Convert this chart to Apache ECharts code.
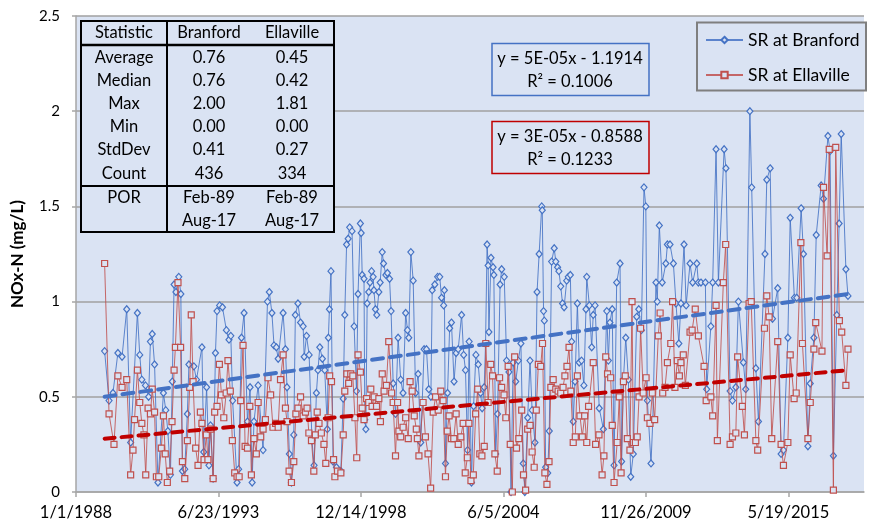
<!DOCTYPE html>
<html>
<head>
<meta charset="utf-8">
<script src="https://cdn.jsdelivr.net/npm/echarts@6/dist/echarts.min.js"></script>
<style>html,body{margin:0;padding:0;background:#fff}#c{width:875px;height:529px}</style>
</head>
<body>
<div id="c"></div>
<script>
// ---- Data (dates as decimal years) ----
const brYears = [1989.10,1989.27,1989.42,1989.61,1989.77,1989.95,1990.10,1990.36,1990.45,1990.53,1990.67,1990.79,1990.86,1990.93,1991.02,1991.15,1991.36,1991.45,1991.53,1991.63,1991.70,1991.77,1991.84,1991.95,1992.03,1992.09,1992.18,1992.28,1992.34,1992.53,1992.63,1992.84,1992.91,1993.02,1993.11,1993.17,1993.27,1993.36,1993.42,1993.52,1993.63,1993.78,1993.88,1993.95,1994.02,1994.19,1994.25,1994.36,1994.46,1994.59,1994.69,1994.77,1994.84,1995.00,1995.19,1995.36,1995.43,1995.53,1995.61,1995.70,1995.77,1995.96,1996.05,1996.11,1996.20,1996.28,1996.37,1996.43,1996.53,1996.63,1996.73,1996.77,1996.86,1996.96,1997.07,1997.15,1997.24,1997.30,1997.37,1997.47,1997.56,1997.66,1997.70,1997.74,1997.80,1997.88,1998.01,1998.18,1998.27,1998.33,1998.40,1998.46,1998.52,1998.61,1998.69,1998.78,1998.84,1998.93,1998.96,1999.00,1999.07,1999.10,1999.14,1999.19,1999.25,1999.30,1999.36,1999.42,1999.45,1999.51,1999.56,1999.64,1999.69,1999.77,1999.82,1999.91,1999.97,2000.05,2000.11,2000.19,2000.28,2000.38,2000.48,2000.57,2000.67,2000.74,2000.79,2000.87,2000.96,2001.05,2001.15,2001.25,2001.38,2001.47,2001.56,2001.64,2001.69,2001.79,2001.90,2001.98,2002.05,2002.13,2002.16,2002.20,2002.28,2002.36,2002.43,2002.53,2002.61,2002.69,2002.82,2002.90,2002.97,2003.05,2003.11,2003.20,2003.28,2003.37,2003.46,2003.55,2003.61,2003.69,2003.74,2003.80,2003.84,2003.87,2003.95,2004.03,2004.06,2004.13,2004.20,2004.30,2004.36,2004.46,2004.55,2004.64,2004.72,2004.80,2004.90,2005.00,2005.10,2005.19,2005.25,2005.36,2005.45,2005.53,2005.64,2005.72,2005.80,2005.90,2005.92,2005.97,2006.00,2006.05,2006.13,2006.19,2006.28,2006.38,2006.44,2006.51,2006.56,2006.63,2006.70,2006.76,2006.86,2006.92,2007.00,2007.05,2007.11,2007.18,2007.27,2007.34,2007.43,2007.52,2007.60,2007.63,2007.73,2007.82,2007.88,2007.95,2008.11,2008.27,2008.40,2008.46,2008.52,2008.61,2008.68,2008.78,2008.91,2008.97,2009.04,2009.13,2009.23,2009.32,2009.42,2009.55,2009.63,2009.73,2009.83,2009.90,2009.96,2010.10,2010.17,2010.29,2010.34,2010.42,2010.53,2010.67,2010.73,2010.83,2010.96,2011.06,2011.17,2011.25,2011.37,2011.45,2011.60,2011.70,2011.86,2011.92,2012.02,2012.19,2012.24,2012.40,2012.47,2012.60,2012.69,2012.91,2012.98,2013.14,2013.23,2013.36,2013.46,2013.65,2013.74,2013.90,2013.97,2014.13,2014.23,2014.48,2014.55,2014.68,2014.77,2014.97,2015.10,2015.19,2015.36,2015.45,2015.61,2015.70,2015.87,2015.96,2016.13,2016.22,2016.36,2016.45,2016.64,2016.73,2016.90,2016.98,2017.11,2017.24,2017.33,2017.41,2017.59,2017.67];
const brValues = [0.74,0.48,0.52,0.73,0.71,0.96,0.26,0.94,0.72,0.59,0.56,0.50,0.79,0.83,0.67,0.05,0.52,0.43,0.32,0.09,0.58,1.09,1.05,1.13,1.04,0.11,0.12,0.41,0.67,0.66,0.59,0.76,0.21,0.55,0.14,0.35,0.07,0.73,0.95,0.98,0.97,0.85,0.80,0.82,0.48,0.05,0.12,0.81,0.94,0.37,0.55,0.05,0.37,0.56,0.22,1.00,1.05,0.94,0.77,0.76,0.70,0.94,0.75,0.55,0.20,0.05,0.30,0.93,0.99,0.89,0.87,0.71,0.82,0.72,0.27,0.14,0.52,0.64,0.76,0.70,0.64,0.33,0.81,0.96,1.16,0.16,0.13,0.11,0.49,0.93,1.30,1.33,1.39,1.37,0.87,0.53,1.04,1.41,1.36,1.14,1.12,0.38,0.33,0.99,1.05,1.10,1.16,1.13,1.06,0.96,0.93,1.05,1.10,1.26,1.20,1.14,1.15,1.12,0.95,0.57,0.41,0.81,0.59,0.52,0.94,0.85,0.81,1.26,1.11,0.52,0.62,0.26,0.75,0.75,0.54,0.50,1.06,1.09,1.13,1.13,1.02,0.98,1.06,0.15,0.52,0.86,0.89,0.58,0.73,0.75,0.93,0.72,0.64,0.22,0.79,0.05,0.45,0.72,0.67,0.52,0.44,0.55,0.78,1.30,1.19,0.84,1.23,1.18,1.14,0.20,0.41,1.09,1.17,1.13,0.69,0.63,0.00,0.68,0.58,0.69,0.78,0.15,0.00,0.39,0.69,0.43,0.26,1.05,1.25,1.50,1.48,0.95,0.90,0.13,0.10,0.32,1.21,1.28,1.21,1.18,1.16,1.08,0.99,0.97,1.11,1.13,1.14,0.79,0.37,0.58,0.99,0.68,0.69,0.56,0.96,1.13,0.98,0.76,0.93,0.98,0.44,0.33,0.95,0.69,0.89,0.96,0.14,1.10,1.20,0.16,0.59,0.81,0.59,0.08,0.20,0.92,0.96,0.85,1.60,1.50,0.48,0.15,0.38,1.10,1.00,1.40,1.10,1.20,1.30,1.30,1.20,0.99,0.78,0.99,1.30,0.98,1.20,1.10,1.20,1.10,1.10,1.10,0.54,0.87,1.10,1.80,1.10,1.80,1.70,0.53,0.48,0.55,1.00,0.68,0.54,2.00,1.60,0.65,0.37,1.25,1.64,1.70,0.91,1.07,0.20,0.22,0.81,1.44,1.02,1.02,1.49,1.25,0.24,0.57,0.81,1.35,1.61,1.54,1.87,1.79,0.19,0.93,1.41,1.88,1.17,1.03];

const elYears = [1989.10,1989.27,1989.46,1989.61,1989.77,1989.95,1990.10,1990.19,1990.25,1990.36,1990.45,1990.53,1990.61,1990.68,1990.77,1990.86,1990.93,1991.02,1991.09,1991.18,1991.28,1991.36,1991.43,1991.51,1991.60,1991.69,1991.77,1991.82,1991.92,1992.02,1992.09,1992.18,1992.28,1992.37,1992.43,1992.50,1992.60,1992.69,1992.78,1992.84,1992.92,1993.01,1993.07,1993.18,1993.27,1993.33,1993.42,1993.51,1993.59,1993.68,1993.77,1993.84,1993.93,1994.01,1994.10,1994.19,1994.27,1994.33,1994.42,1994.50,1994.59,1994.68,1994.74,1994.84,1994.93,1995.00,1995.10,1995.19,1995.28,1995.38,1995.48,1995.57,1995.67,1995.77,1995.86,1995.96,1996.05,1996.11,1996.19,1996.28,1996.37,1996.45,1996.53,1996.63,1996.73,1996.82,1996.88,1996.95,1997.05,1997.14,1997.20,1997.27,1997.34,1997.43,1997.53,1997.60,1997.69,1997.75,1997.82,1997.90,1997.95,1998.05,1998.18,1998.27,1998.33,1998.41,1998.48,1998.56,1998.64,1998.72,1998.79,1998.84,1998.93,1999.00,1999.07,1999.17,1999.25,1999.33,1999.38,1999.46,1999.55,1999.64,1999.70,1999.77,1999.84,1999.93,2000.02,2000.13,2000.19,2000.28,2000.36,2000.41,2000.48,2000.57,2000.67,2000.77,2000.84,2000.92,2001.00,2001.08,2001.12,2001.18,2001.34,2001.43,2001.53,2001.63,2001.73,2001.82,2001.92,2002.02,2002.11,2002.20,2002.27,2002.34,2002.43,2002.52,2002.61,2002.69,2002.79,2002.88,2002.96,2003.04,2003.10,2003.18,2003.27,2003.36,2003.44,2003.52,2003.60,2003.69,2003.75,2003.84,2003.94,2004.01,2004.10,2004.19,2004.28,2004.36,2004.45,2004.52,2004.61,2004.69,2004.77,2004.86,2004.93,2005.02,2005.13,2005.20,2005.28,2005.36,2005.45,2005.53,2005.61,2005.69,2005.77,2005.86,2005.93,2006.02,2006.10,2006.18,2006.25,2006.34,2006.44,2006.53,2006.63,2006.72,2006.79,2006.87,2006.95,2007.02,2007.11,2007.19,2007.27,2007.37,2007.46,2007.55,2007.63,2007.70,2007.88,2007.97,2008.10,2008.22,2008.29,2008.36,2008.43,2008.55,2008.61,2008.68,2008.80,2008.88,2008.95,2009.04,2009.11,2009.19,2009.29,2009.37,2009.42,2009.50,2009.57,2009.64,2009.70,2009.80,2009.91,2009.96,2010.06,2010.15,2010.24,2010.38,2010.45,2010.55,2010.64,2010.73,2010.86,2010.93,2011.02,2011.11,2011.19,2011.25,2011.34,2011.42,2011.60,2011.68,2011.80,2011.92,2012.14,2012.22,2012.40,2012.47,2012.60,2012.65,2012.88,2012.97,2013.14,2013.23,2013.36,2013.43,2013.61,2013.69,2013.87,2013.95,2014.13,2014.20,2014.46,2014.55,2014.64,2014.74,2014.97,2015.10,2015.19,2015.36,2015.45,2015.60,2015.68,2015.86,2015.92,2016.13,2016.22,2016.36,2016.43,2016.67,2016.73,2016.87,2016.95,2017.11,2017.20,2017.34,2017.43,2017.59,2017.67];
const elValues = [1.20,0.41,0.25,0.61,0.55,0.59,0.09,0.22,0.38,0.64,0.47,0.36,0.30,0.09,0.44,0.41,0.54,0.42,0.08,0.08,0.23,0.40,0.20,0.05,0.11,0.37,0.64,0.76,1.10,0.76,0.16,0.07,0.27,0.55,0.93,0.58,0.23,0.14,0.42,0.36,0.17,0.30,0.17,0.33,0.07,0.42,0.45,0.67,0.51,0.39,0.52,0.69,0.53,0.27,0.10,0.08,0.08,0.48,0.77,0.24,0.23,0.45,0.09,0.28,0.20,0.47,0.29,0.33,0.38,0.60,0.51,0.34,0.36,0.34,0.59,0.72,0.44,0.37,0.11,0.05,0.16,0.41,0.44,0.50,0.40,0.42,0.44,0.31,0.27,0.11,0.30,0.42,0.36,0.31,0.25,0.15,0.39,0.61,0.58,0.17,0.08,0.11,0.10,0.30,0.53,0.62,0.57,0.62,0.61,0.39,0.18,0.72,0.63,0.44,0.38,0.49,0.47,0.54,0.45,0.50,0.45,0.49,0.37,0.62,0.53,0.56,0.79,0.52,0.47,0.19,0.47,0.32,0.29,0.34,0.39,0.28,0.58,0.53,0.40,0.33,0.28,0.19,0.47,0.29,0.20,0.02,0.42,0.50,0.43,0.53,0.48,0.08,0.32,0.40,0.28,0.28,0.41,0.25,0.29,0.36,0.10,0.18,0.36,0.06,0.09,0.41,0.54,0.20,0.19,0.24,0.78,0.47,0.67,0.61,0.20,0.11,0.60,0.55,0.51,0.39,0.66,0.25,0.00,0.71,0.23,0.28,0.43,0.09,0.01,0.33,0.35,0.21,0.13,0.43,0.67,0.66,0.78,0.10,0.04,0.16,0.55,0.59,0.54,0.53,0.52,0.55,0.61,0.66,0.76,0.53,0.26,0.29,0.61,0.40,0.29,0.40,0.26,0.45,0.68,0.25,0.30,0.09,0.19,0.71,0.62,0.60,0.35,0.05,0.26,0.50,0.10,0.58,0.61,0.28,0.22,1.00,0.26,0.26,0.29,0.50,0.86,0.52,0.60,0.39,0.36,0.52,0.38,0.82,0.94,0.52,0.55,0.68,0.78,1.00,0.55,0.69,0.61,0.68,0.72,0.56,0.84,0.85,0.96,0.82,0.66,0.48,0.50,0.40,0.98,0.27,1.10,1.30,0.25,0.29,0.31,0.71,0.45,0.30,0.99,1.00,0.27,0.22,0.86,1.03,0.92,0.28,0.79,0.25,0.14,0.26,0.72,0.49,0.52,1.31,0.78,0.28,0.47,0.75,0.89,0.74,1.60,1.24,1.80,0.01,1.81,0.90,0.84,0.56,0.75];

// linear trendline end points
const trendYears = [1989.10, 2017.67];
const brTrend = [0.50, 1.04];
const elTrend = [0.28, 0.64];

const seriesNames = ['SR at Branford', 'SR at Ellaville'];
const xTickDays = [0, 2000, 4000, 6000, 8000, 10000];

const tableHeader = ['Statistic', 'Branford', 'Ellaville'];
const statNames = ['Average', 'Median', 'Max', 'Min', 'StdDev', 'Count'];
const branfordStats = ['0.76', '0.76', '2.00', '0.00', '0.41', '436'];
const ellavilleStats = ['0.45', '0.42', '1.81', '0.00', '0.27', '334'];
const porLabel = 'POR';
const branfordPor = ['Feb-89', 'Aug-17'];
const ellavillePor = ['Feb-89', 'Aug-17'];

const eqBranford = ['y = 5E-05x - 1.1914', 'R² = 0.1006'];
const eqEllaville = ['y = 3E-05x - 0.8588', 'R² = 0.1233'];

// ---- helpers ----
const DAY0 = Date.UTC(1988, 0, 1);
const toDays = y => (y - 1988) * 365.25;
const pairs = (xs, ys) => xs.map((x, i) => [toDays(x), ys[i]]);
const fmtDate = v => {
  const d = new Date(DAY0 + Math.round(v) * 86400000);
  return (d.getUTCMonth() + 1) + '/' + d.getUTCDate() + '/' + d.getUTCFullYear();
};

const FONT = 'Lato, "Open Sans", sans-serif';
const BG = '#DAE3F3';
const BLUE = '#4472C4';
const RED = '#C0504D';

// ---- table graphic ----
const T = {x: 81, y: 21, w: 253, h: 211, c1: 167, hLine: 45, pLine: 186};
const rowY = [58, 81, 104, 127, 150, 174];
const colX = [124, 209, 292];
const g = [];
g.push({type: 'rect', z: 50, shape: {x: T.x, y: T.y, width: T.w, height: T.h}, style: {fill: BG, stroke: '#000', lineWidth: 2}});
g.push({type: 'line', z: 51, shape: {x1: T.c1, y1: T.y, x2: T.c1, y2: T.y + T.h}, style: {stroke: '#000', lineWidth: 2}});
g.push({type: 'line', z: 51, shape: {x1: T.x, y1: T.hLine, x2: T.x + T.w, y2: T.hLine}, style: {stroke: '#000', lineWidth: 2.5}});
g.push({type: 'line', z: 51, shape: {x1: T.x, y1: T.pLine, x2: T.x + T.w, y2: T.pLine}, style: {stroke: '#000', lineWidth: 2}});
const txt = (s, x, y) => ({type: 'text', z: 52, x: x, y: y,
  style: {text: s, font: '16.5px ' + FONT, fill: '#000', align: 'center', verticalAlign: 'middle'}});
tableHeader.forEach((h, i) => g.push(txt(h, colX[i], 33)));
statNames.forEach((s, i) => {
  g.push(txt(s, colX[0], rowY[i]));
  g.push(txt(branfordStats[i], colX[1], rowY[i]));
  g.push(txt(ellavilleStats[i], colX[2], rowY[i]));
});
g.push(txt(porLabel, colX[0], 198));
branfordPor.forEach((s, i) => g.push(txt(s, colX[1], 198 + i * 23)));
ellavillePor.forEach((s, i) => g.push(txt(s, colX[2], 198 + i * 23)));

// equation boxes
const eqBox = (lines, y, color) => {
  g.push({type: 'rect', z: 50, shape: {x: 492, y: y, width: 157, height: 52}, style: {fill: BG, stroke: color, lineWidth: 1.5}});
  lines.forEach((s, i) => g.push(txt(s, 570, y + 15 + i * 23)));
};
eqBox(eqBranford, 43.5, BLUE);
eqBox(eqEllaville, 121.5, '#C00000');

// legend box
g.push({type: 'rect', z: 50, shape: {x: 697, y: 22.5, width: 169, height: 68}, style: {fill: BG, stroke: '#7F7F7F', lineWidth: 2}});

const chart = echarts.init(document.getElementById('c'), null, {renderer: 'canvas'});
chart.setOption({
  animation: false,
  backgroundColor: '#fff',
  grid: {left: 76, right: 11, top: 16, bottom: 37, show: true, backgroundColor: BG, borderWidth: 0},
  legend: {
    data: seriesNames, orient: 'vertical', left: 700, top: 25, itemWidth: 37, itemHeight: 8, itemGap: 15,
    z: 60, textStyle: {fontFamily: FONT, fontSize: 17.5, color: '#000', lineHeight: 20}
  },
  xAxis: {
    type: 'value', min: 0, max: 11062, interval: 2000,
    axisLine: {lineStyle: {color: '#A6A6A6', width: 1.5}},
    axisTick: {show: true, length: 5, lineStyle: {color: '#A6A6A6', width: 1.5}, customValues: xTickDays},
    axisLabel: {customValues: xTickDays, formatter: fmtDate, fontFamily: FONT, fontSize: 16.5, color: '#000', margin: 12},
    splitLine: {show: false}
  },
  yAxis: {
    type: 'value', min: 0, max: 2.5, interval: 0.5,
    name: 'NOx-N (mg/L)', nameLocation: 'middle', nameGap: 50,
    nameTextStyle: {fontFamily: FONT, fontSize: 17, fontWeight: 'bold', color: '#000'},
    axisLine: {show: true, lineStyle: {color: '#A6A6A6', width: 1.5}},
    axisTick: {show: true, length: 4, lineStyle: {color: '#A6A6A6', width: 1.5}},
    axisLabel: {fontFamily: FONT, fontSize: 15, color: '#000', margin: 16},
    splitLine: {show: true, lineStyle: {color: '#A0A0A0', width: 1.5}}
  },
  graphic: g,
  series: [
    {name: seriesNames[0], type: 'line', z: 2, data: pairs(brYears, brValues),
     symbol: 'diamond', symbolSize: [6, 7], showAllSymbol: true,
     lineStyle: {color: BLUE, width: 1, opacity: 0.85},
     itemStyle: {color: BG, borderColor: BLUE, borderWidth: 1.2}},
    {name: seriesNames[1], type: 'line', z: 3, data: pairs(elYears, elValues),
     symbol: 'rect', symbolSize: 6, showAllSymbol: true,
     lineStyle: {color: RED, width: 1, opacity: 0.85},
     itemStyle: {color: BG, borderColor: RED, borderWidth: 1.2}},
    {name: 'trendB', type: 'line', z: 4, data: pairs(trendYears, brTrend), symbol: 'none',
     lineStyle: {color: BLUE, width: 4, type: [11, 7], cap: 'round'}, silent: true},
    {name: 'trendE', type: 'line', z: 4, data: pairs(trendYears, elTrend), symbol: 'none',
     lineStyle: {color: '#C00000', width: 4, type: [10, 7], cap: 'round'}, silent: true}
  ]
});
</script>
</body>
</html>
